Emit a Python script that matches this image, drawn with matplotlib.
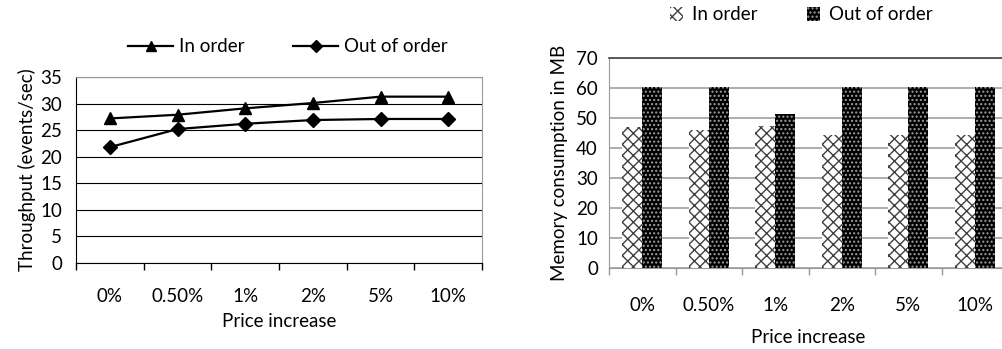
import numpy as np
import matplotlib.pyplot as plt
from matplotlib.patches import Patch
from matplotlib.lines import Line2D

plt.rcParams['font.family'] = ['Lato', 'DejaVu Sans']
plt.rcParams['hatch.linewidth'] = 1.0

categories = ['0%', '0.50%', '1%', '2%', '5%', '10%']

# throughput in events/sec
thr_in_order = [27.2, 27.9, 29.1, 30.1, 31.3, 31.3]
thr_out_of_order = [21.8, 25.2, 26.2, 26.9, 27.1, 27.1]

# memory consumption in MB
mem_in_order = [47, 46, 47.3, 44.5, 44.5, 44.5]
mem_out_of_order = [60.5, 60.5, 51.5, 60.5, 60.5, 60.5]

fs = 13.5
fig = plt.figure(figsize=(10.03, 3.49), dpi=100)

# ---- throughput line chart ----
ax1 = fig.add_axes([0.0758, 0.2464, 0.4048, 0.533])
x = np.arange(len(categories))
ax1.plot(x, thr_in_order, color='black', lw=1.6, marker='^', ms=8, zorder=3)
ax1.plot(x, thr_out_of_order, color='black', lw=1.6, marker='D', ms=7, zorder=3)
ax1.set_xlim(-0.5, len(categories) - 0.5)
ax1.set_ylim(0, 35)
ax1.set_yticks(np.arange(0, 36, 5))
ax1.yaxis.grid(True, color='black', lw=0.8)
ax1.set_axisbelow(True)
ax1.set_xticks(np.arange(-0.5, len(categories), 1.0))
ax1.set_xticklabels([])
ax1.set_xticks(x, minor=True)
ax1.set_xticklabels(categories, minor=True, fontsize=fs)
ax1.tick_params(axis='x', which='major', length=5, width=1, color='black', direction='out')
ax1.tick_params(axis='x', which='minor', length=0, pad=18)
ax1.tick_params(axis='y', length=0, labelsize=fs, pad=10)
ax1.spines['left'].set_color('black')
ax1.spines['bottom'].set_color('black')
for s in ['top', 'right']:
    ax1.spines[s].set_color('#999999')
ax1.set_ylabel('Throughput (events/sec)', fontsize=fs, labelpad=3)
ax1.set_xlabel('Price increase', fontsize=fs, labelpad=6)

handles1 = [Line2D([], [], color='black', lw=1.6, marker='^', ms=7),
            Line2D([], [], color='black', lw=1.6, marker='D', ms=6.5)]
fig.legend(handles1, ['In order', 'Out of order'], loc='center',
           bbox_to_anchor=(0.287, 1 - 47 / 349), ncol=2, frameon=False,
           fontsize=fs, handlelength=2.4, columnspacing=2.6, handletextpad=0.3)

# ---- memory bar chart ----
ax2 = fig.add_axes([0.6072, 0.2321, 0.3978, 0.6017])
w = 0.3
ax2.bar(x - w / 2, mem_in_order, w, facecolor='white', edgecolor='#404040',
        hatch='xxx', lw=0, zorder=3)
ax2.bar(x + w / 2, mem_out_of_order, w, facecolor='black', edgecolor='#a0a0a0',
        hatch='....', lw=0, zorder=3)
ax2.set_xlim(-0.5, len(categories) - 0.5)
ax2.set_ylim(0, 70)
ax2.set_yticks(np.arange(0, 71, 10))
ax2.yaxis.grid(True, color='#a0a0a0', lw=1.2)
ax2.set_axisbelow(True)
ax2.set_xticks(np.arange(-0.5, len(categories), 1.0))
ax2.set_xticklabels([])
ax2.set_xticks(x, minor=True)
ax2.set_xticklabels(categories, minor=True, fontsize=fs)
ax2.tick_params(axis='x', which='major', length=5, width=1, color='#999999', direction='out')
ax2.tick_params(axis='x', which='minor', length=0, pad=21)
ax2.tick_params(axis='y', length=0, labelsize=fs, pad=8)
for s in ['left', 'bottom']:
    ax2.spines[s].set_color('#999999')
ax2.spines['top'].set_color('#444444')
ax2.spines['top'].set_linewidth(1.2)
ax2.set_ylabel('Memory consumption in MB', fontsize=fs, labelpad=6)
ax2.set_xlabel('Price increase', fontsize=fs, labelpad=11)

handles2 = [Patch(facecolor='white', edgecolor='#404040', hatch='xxx', lw=0),
            Patch(facecolor='black', edgecolor='#a0a0a0', hatch='....', lw=0)]
fig.legend(handles2, ['In order', 'Out of order'], loc='center',
           bbox_to_anchor=(0.799, 1 - 15 / 349), ncol=2, frameon=False,
           fontsize=fs, handlelength=0.7, handleheight=0.7,
           columnspacing=2.6, handletextpad=0.5)

fig.savefig('out.png', dpi=100)
